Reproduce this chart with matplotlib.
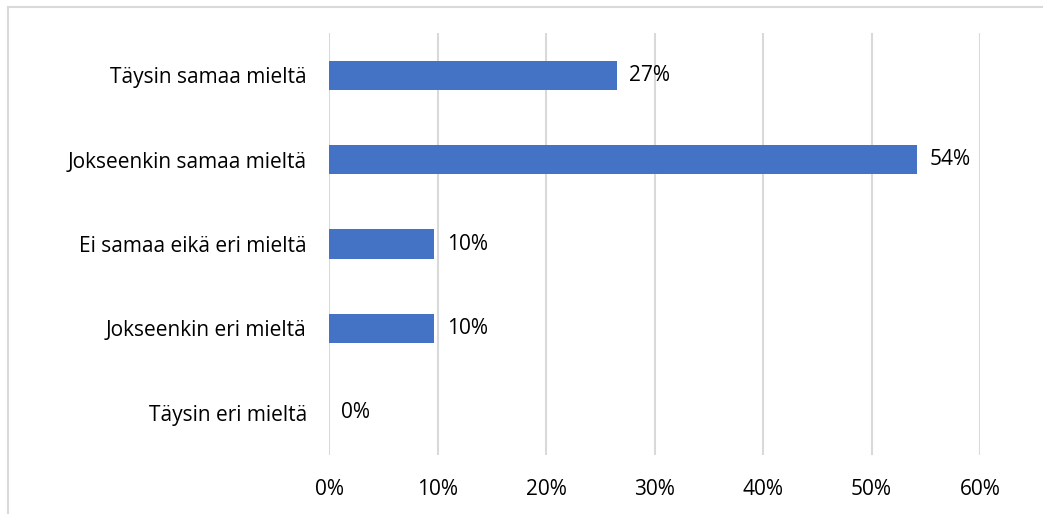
import matplotlib
matplotlib.use("Agg")
import matplotlib.pyplot as plt
from matplotlib.patches import Rectangle
from matplotlib.ticker import FixedLocator, FuncFormatter

categories = [
    "Täysin samaa mieltä",
    "Jokseenkin samaa mieltä",
    "Ei samaa eikä eri mieltä",
    "Jokseenkin eri mieltä",
    "Täysin eri mieltä",
]
shares = [26.5, 54.2, 9.7, 9.7, 0.0]
value_labels = ["27%", "54%", "10%", "10%", "0%"]
x_ticks = [0, 10, 20, 30, 40, 50, 60]

plt.rcParams["font.family"] = ["Open Sans", "DejaVu Sans"]
font_size = 15

fig = plt.figure(figsize=(10.43, 5.14), dpi=100)
ax = fig.add_axes([329 / 1043, 59 / 514, 651 / 1043, 422 / 514])

y_pos = list(range(len(categories)))
ax.barh(y_pos, shares, height=0.345, color="#4472c4", zorder=3)
for y, v, lab in zip(y_pos, shares, value_labels):
    ax.annotate(lab, xy=(v, y), xytext=(9, 0), textcoords="offset points",
                ha="left", va="center", fontsize=font_size, color="#000000")

ax.set_xlim(0, 60)
ax.set_ylim(len(categories) - 0.5, -0.5)
ax.set_yticks(y_pos)
ax.set_yticklabels(categories)
ax.xaxis.set_major_locator(FixedLocator(x_ticks))
ax.xaxis.set_major_formatter(FuncFormatter(lambda v, p: f"{v:.0f}%"))
ax.grid(True, axis="x", color="#d9d9d9", linewidth=1.5, zorder=0)
for side in ["top", "right", "bottom", "left"]:
    ax.spines[side].set_visible(False)
ax.tick_params(axis="y", length=0, pad=16, labelsize=font_size)
ax.tick_params(axis="x", length=0, pad=17, labelsize=font_size)

# chart frame, only top and left edge visible in the crop
fig.patches.append(Rectangle((8 / 1043, -0.1), 1.2, (514 - 7) / 514 + 0.1,
                             transform=fig.transFigure, fill=False,
                             edgecolor="#d9d9d9", linewidth=1.5))

fig.savefig("out.png", dpi=100)
